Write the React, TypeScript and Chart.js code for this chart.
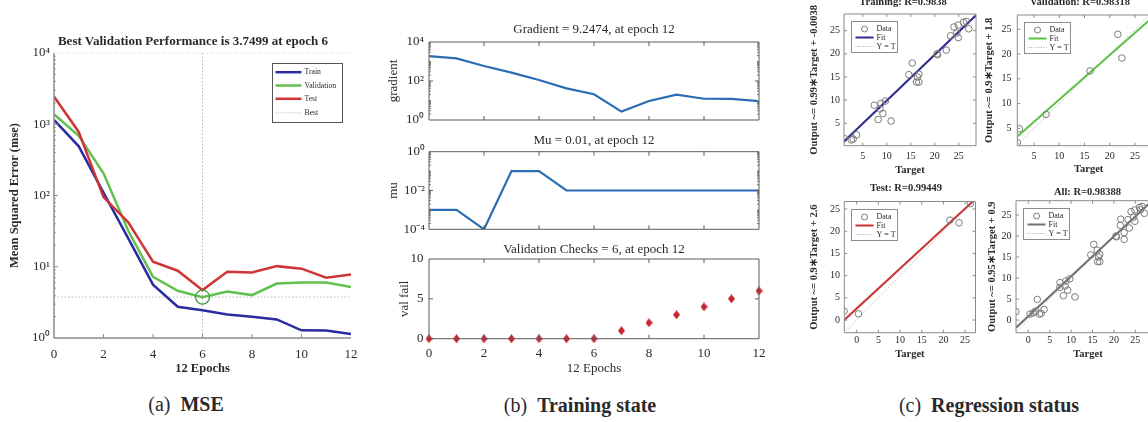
import React, { useEffect, useRef } from 'react';
import { Chart, registerables } from 'chart.js';

Chart.register(...registerables);

const FONT = '"Liberation Serif", "Times New Roman", Times, serif';
const INK = '#2a2a2a';
Chart.defaults.font.family = FONT;

// ---------------- (a) MSE ----------------
const epochs = [0, 1, 2, 3, 4, 5, 6, 7, 8, 9, 10, 11, 12];
const trainMse = [1150, 490, 110, 25, 5.6, 2.75, 2.45, 2.13, 1.98, 1.82, 1.28, 1.27, 1.14];
const validationMse = [1380, 690, 205, 32, 7.2, 4.6, 3.7499, 4.5, 4.0, 5.8, 6.0, 6.0, 5.2];
const testMse = [2450, 780, 95, 42, 11.8, 8.8, 4.7, 8.5, 8.3, 10.2, 9.4, 7.0, 7.8];
const bestEpoch = 6;
const bestPerformance = 3.7499;
const mseTicks = [1, 10, 100, 1000, 10000];
const mseTickLabels = ['10⁰', '10¹', '10²', '10³', '10⁴'];
const epochTicks = [0, 2, 4, 6, 8, 10, 12];
const epochTickLabels = ['0', '2', '4', '6', '8', '10', '12'];
const epochInnerTicks = [2, 4, 6, 8, 10];

// ---------------- (b) Training state ----------------
const gradientValues = [1900, 1450, 590, 270, 112, 42, 21, 2.7, 9.4, 20, 12.3, 12.2, 9.2474];
const muValues = [0.001, 0.001, 0.0001, 0.1, 0.1, 0.01, 0.01, 0.01, 0.01, 0.01, 0.01, 0.01, 0.01];
const valFailValues = [0, 0, 0, 0, 0, 0, 0, 1, 2, 3, 4, 5, 6];
const gradientTicks = [1, 100, 10000];
const gradientTickLabels = ['10⁰', '10²', '10⁴'];
const muTicks = [0.0001, 0.01, 1];
const muTickLabels = ['10⁻⁴', '10⁻²', '10⁰'];
const valFailTicks = [0, 5, 10];
const valFailTickLabels = ['0', '5', '10'];

// ---------------- (c) Regression ----------------
const trainTarget = [1.15, 2.6, 3.0, 3.7, 7.4, 8.8, 9.7, 8.2, 9.2, 10.9, 8.6, 14.6, 15.3, 16.2, 16.7, 16.7, 16.4, 20.5, 20.6, 22.4, 23.3, 24.0, 24.9, 24.9, 24.6, 26.0, 26.6, 27.1];
const trainOutput = [1.7, 1.4, 1.6, 2.5, 8.9, 9.3, 9.8, 5.8, 7.1, 5.5, 8.1, 15.5, 18.0, 13.9, 13.9, 15.6, 15.0, 20.0, 19.8, 20.8, 23.9, 25.8, 26.2, 23.5, 24.5, 26.8, 27.0, 25.4];
const validationTarget = [2.1, 1.7, 7.4, 16.1, 21.6, 22.4];
const validationOutput = [4.9, 2.1, 7.8, 16.6, 24.0, 19.2];
const testTarget = [-2.9, 0.4, 21.5, 23.6, 26.2];
const testOutput = [2.0, 1.4, 22.5, 21.9, 26.2];
const allTarget = [...trainTarget, ...validationTarget, ...testTarget];
const allOutput = [...trainOutput, ...validationOutput, ...testOutput];
const regTicksFrom5 = [5, 10, 15, 20, 25];
const regTicksFrom0 = [0, 5, 10, 15, 20, 25];
const fitTrain = { slope: 0.99, intercept: -0.0038, r: '0.9838' };
const fitValidation = { slope: 0.9, intercept: 1.8, r: '0.98318' };
const fitTest = { slope: 0.9, intercept: 2.6, r: '0.99449' };
const fitAll = { slope: 0.95, intercept: 0.9, r: '0.98388' };

// ---------------- styling ----------------
const BLUE = '#2c2ca2';
const GREEN = '#62c04e';
const RED = '#d03535';
const BEST = '#b5b5b5';
const MATLAB_BLUE = '#2a6db4';
const DIAMOND = '#c8232e';
const REG_FRAME = '#8a8a8a';
const B_FRAME = '#5a5a5a';

type Side = 'top' | 'right' | 'bottom' | 'left';
interface Geo { cx: number; cy: number; cw: number; ch: number; l: number; t: number; r: number; b: number; }
interface AxisSpec {
  type: 'linear' | 'logarithmic';
  min: number; max: number;
  ticks: number[]; labels: string[] | null;
  size: number; labelPos: number;
  title?: { text: string; size: number; bold: boolean; pos: number };
}
interface LegendItem { label: string; kind: 'line' | 'dotted' | 'circle'; color: string; width: number; }
interface Decor {
  frames: { sides: Side[]; color: string; width: number; dash?: number[] }[];
  ticks: { axis: 'x' | 'y'; values: number[]; sides: Side[]; len: number; color: string }[];
  legend?: { dx: number; dy: number; w: number; h: number; rows: number[]; s0: number; s1: number; tx: number; size: number; border: string; items: LegendItem[] };
}

const pts = (xs: number[], ys: number[]) => xs.map((x, i) => ({ x, y: ys[i] }));

function logMinor(minExp: number, maxExp: number) {
  const out: number[] = [];
  for (let e = minExp; e < maxExp; e++) for (let m = 2; m <= 9; m++) out.push(m * Math.pow(10, e));
  return out;
}

function diamondImage(w: number, h: number, color: string) {
  const c = document.createElement('canvas');
  c.width = w;
  c.height = h;
  const x = c.getContext('2d') as CanvasRenderingContext2D;
  x.fillStyle = color;
  x.beginPath();
  x.moveTo(w / 2, 0);
  x.lineTo(w, h / 2);
  x.lineTo(w / 2, h);
  x.lineTo(0, h / 2);
  x.closePath();
  x.fill();
  return c;
}

function axisOptions(g: Geo, ax: AxisSpec, horizontal: boolean) {
  const lh = ax.size * 1.2;
  const pad = horizontal ? ax.labelPos - g.b - lh / 2 : g.l - ax.labelPos;
  const tl = ax.title ? ax.title.size * 1.2 : 0;
  return {
    type: ax.type,
    position: horizontal ? 'bottom' : 'left',
    min: ax.min,
    max: ax.max,
    grid: { display: false, drawTicks: false },
    border: { display: false },
    ticks: {
      display: ax.labels !== null,
      autoSkip: false,
      maxRotation: 0,
      minRotation: 0,
      padding: pad,
      color: INK,
      font: { family: FONT, size: ax.size },
      callback: (_v: any, i: number) => (ax.labels ? ax.labels[i] : ''),
    },
    title: ax.title
      ? {
          display: true,
          text: ax.title.text,
          color: INK,
          font: { family: FONT, size: ax.title.size, weight: ax.title.bold ? 'bold' : 'normal' },
          padding: horizontal
            ? { top: 0, bottom: g.cy + g.ch - ax.title.pos - tl / 2 }
            : { top: ax.title.pos - g.cx - tl / 2, bottom: 0 },
        }
      : { display: false },
    afterBuildTicks: (s: any) => {
      s.ticks = ax.ticks.map((v) => ({ value: v }));
    },
    afterFit: (s: any) => {
      if (horizontal) s.height = g.cy + g.ch - g.b;
      else s.width = g.l - g.cx;
      s.paddingLeft = 0;
      s.paddingRight = 0;
      s.paddingTop = 0;
      s.paddingBottom = 0;
    },
  };
}

function baseOptions(g: Geo, x: AxisSpec, y: AxisSpec) {
  return {
    responsive: false,
    animation: false,
    events: [],
    layout: { padding: { left: 0, top: g.t - g.cy, right: g.cx + g.cw - g.r, bottom: 0 } },
    plugins: { legend: { display: false }, tooltip: { enabled: false }, title: { display: false } },
    scales: { x: axisOptions(g, x, true), y: axisOptions(g, y, false) },
  };
}

function decorPlugin(d: Decor) {
  return {
    id: 'decor',
    afterDatasetsDraw(chart: any) {
      const ctx: CanvasRenderingContext2D = chart.ctx;
      const a = chart.chartArea;
      const xs = chart.scales.x;
      const ys = chart.scales.y;
      ctx.save();
      for (const t of d.ticks) {
        ctx.strokeStyle = t.color;
        ctx.lineWidth = 1;
        ctx.setLineDash([]);
        ctx.beginPath();
        for (const v of t.values) {
          if (t.axis === 'x') {
            const px = xs.getPixelForValue(v);
            if (t.sides.includes('bottom')) { ctx.moveTo(px, a.bottom); ctx.lineTo(px, a.bottom - t.len); }
            if (t.sides.includes('top')) { ctx.moveTo(px, a.top); ctx.lineTo(px, a.top + t.len); }
          } else {
            const py = ys.getPixelForValue(v);
            if (t.sides.includes('left')) { ctx.moveTo(a.left, py); ctx.lineTo(a.left + t.len, py); }
            if (t.sides.includes('right')) { ctx.moveTo(a.right, py); ctx.lineTo(a.right - t.len, py); }
          }
        }
        ctx.stroke();
      }
      for (const f of d.frames) {
        ctx.strokeStyle = f.color;
        ctx.lineWidth = f.width;
        ctx.setLineDash(f.dash || []);
        ctx.beginPath();
        for (const s of f.sides) {
          if (s === 'top') { ctx.moveTo(a.left, a.top); ctx.lineTo(a.right, a.top); }
          if (s === 'bottom') { ctx.moveTo(a.left, a.bottom); ctx.lineTo(a.right, a.bottom); }
          if (s === 'left') { ctx.moveTo(a.left, a.top); ctx.lineTo(a.left, a.bottom); }
          if (s === 'right') { ctx.moveTo(a.right, a.top); ctx.lineTo(a.right, a.bottom); }
        }
        ctx.stroke();
      }
      const L = d.legend;
      if (L) {
        const x0 = Math.round(a.left + L.dx) + 0.5;
        const y0 = Math.round(a.top + L.dy) + 0.5;
        ctx.setLineDash([]);
        ctx.fillStyle = '#ffffff';
        ctx.fillRect(x0, y0, L.w, L.h);
        ctx.strokeStyle = L.border;
        ctx.lineWidth = 1;
        ctx.strokeRect(x0, y0, L.w, L.h);
        ctx.font = `${L.size}px ${FONT}`;
        ctx.textBaseline = 'middle';
        ctx.textAlign = 'left';
        L.items.forEach((it, i) => {
          const yy = y0 + L.rows[i];
          ctx.strokeStyle = it.color;
          ctx.lineWidth = it.width;
          ctx.beginPath();
          if (it.kind === 'circle') {
            ctx.setLineDash([]);
            ctx.arc(x0 + (L.s0 + L.s1) / 2, yy, 3, 0, Math.PI * 2);
          } else {
            ctx.setLineDash(it.kind === 'dotted' ? [1, 1.5] : []);
            ctx.moveTo(x0 + L.s0, yy);
            ctx.lineTo(x0 + L.s1, yy);
          }
          ctx.stroke();
          ctx.fillStyle = INK;
          ctx.fillText(it.label, x0 + L.tx, yy);
        });
      }
      ctx.restore();
    },
  };
}

const lineDs = (label: string, data: any[], color: string, width: number, order: number, dash: number[] = []) => ({
  label,
  data,
  showLine: true,
  borderColor: color,
  backgroundColor: color,
  borderWidth: width,
  borderDash: dash,
  pointRadius: 0,
  order,
});

// ---------------- panel (a) ----------------
const geoA: Geo = { cx: 0, cy: 30, cw: 380, ch: 355, l: 54, t: 53, r: 351, b: 338 };
const panelA = {
  key: 'mse',
  g: geoA,
  config: () => ({
    type: 'scatter',
    data: {
      datasets: [
        lineDs('Test', pts(epochs, testMse), RED, 2.5, 1),
        lineDs('Validation', pts(epochs, validationMse), GREEN, 2.5, 2),
        lineDs('Train', pts(epochs, trainMse), BLUE, 2.5, 3),
        lineDs('Best', [{ x: epochs[0], y: bestPerformance }, { x: epochs[epochs.length - 1], y: bestPerformance }], BEST, 1, 4, [1.5, 2]),
        lineDs('Best', [{ x: bestEpoch, y: mseTicks[0] }, { x: bestEpoch, y: mseTicks[mseTicks.length - 1] }], BEST, 1, 4, [1.5, 2]),
        {
          label: 'Best point',
          data: [{ x: bestEpoch, y: bestPerformance }],
          pointRadius: 7,
          pointStyle: 'circle',
          pointBorderColor: '#3f9a3f',
          pointBackgroundColor: 'rgba(0,0,0,0)',
          pointBorderWidth: 1.3,
          order: 0,
        },
      ],
    },
    options: baseOptions(
      geoA,
      { type: 'linear', min: 0, max: 12, ticks: epochTicks, labels: epochTickLabels, size: 13, labelPos: 355, title: { text: '12 Epochs', size: 12.5, bold: true, pos: 369 } },
      { type: 'logarithmic', min: 1, max: 10000, ticks: mseTicks, labels: mseTickLabels, size: 13, labelPos: 50, title: { text: 'Mean Squared Error (mse)', size: 12.5, bold: true, pos: 15 } },
    ),
    plugins: [
      decorPlugin({
        frames: [
          { sides: ['left', 'bottom'], color: '#8c8c8c', width: 1.5 },
          { sides: ['top'], color: '#d2d2d2', width: 1, dash: [1, 2] },
        ],
        ticks: [
          { axis: 'x', values: epochInnerTicks, sides: ['bottom'], len: 4, color: '#8c8c8c' },
          { axis: 'y', values: [10, 100, 1000], sides: ['left'], len: 4, color: '#8c8c8c' },
          { axis: 'y', values: logMinor(0, 4), sides: ['left'], len: 2, color: '#a0a0a0' },
        ],
        legend: {
          dx: 218, dy: 10, w: 70, h: 59, rows: [8.7, 22, 35.3, 49.3], s0: 3, s1: 29, tx: 32, size: 7.7, border: '#555555',
          items: [
            { label: 'Train', kind: 'line', color: BLUE, width: 2.5 },
            { label: 'Validation', kind: 'line', color: GREEN, width: 2.5 },
            { label: 'Test', kind: 'line', color: RED, width: 2.5 },
            { label: 'Best', kind: 'dotted', color: BEST, width: 1 },
          ],
        },
      }),
    ],
  }),
};

// ---------------- panel (b) ----------------
const geoB1: Geo = { cx: 380, cy: 30, cw: 400, ch: 95, l: 429, t: 42, r: 759, b: 120 };
const geoB2: Geo = { cx: 380, cy: 140, cw: 400, ch: 95, l: 429, t: 151.7, r: 759, b: 229.3 };
const geoB3: Geo = { cx: 380, cy: 250, cw: 400, ch: 130, l: 429, t: 259, r: 759, b: 338.7 };
const bFrame = { sides: ['top', 'right', 'bottom', 'left'] as Side[], color: B_FRAME, width: 1 };
const bXTicks = { axis: 'x' as const, values: epochInnerTicks, sides: ['top', 'bottom'] as Side[], len: 4, color: B_FRAME };

const panelB1 = {
  key: 'gradient',
  g: geoB1,
  config: () => ({
    type: 'scatter',
    data: { datasets: [lineDs('gradient', pts(epochs, gradientValues), MATLAB_BLUE, 2.2, 1)] },
    options: baseOptions(
      geoB1,
      { type: 'linear', min: 0, max: 12, ticks: epochTicks, labels: null, size: 13, labelPos: 130 },
      { type: 'logarithmic', min: 1, max: 10000, ticks: gradientTicks, labels: gradientTickLabels, size: 13, labelPos: 424, title: { text: 'gradient', size: 13, bold: false, pos: 394 } },
    ),
    plugins: [
      decorPlugin({
        frames: [bFrame],
        ticks: [
          bXTicks,
          { axis: 'y', values: [100], sides: ['left', 'right'], len: 4, color: B_FRAME },
          { axis: 'y', values: [10, 1000, ...logMinor(0, 4)], sides: ['left', 'right'], len: 2, color: '#7a7a7a' },
        ],
      }),
    ],
  }),
};

const panelB2 = {
  key: 'mu',
  g: geoB2,
  config: () => ({
    type: 'scatter',
    data: { datasets: [lineDs('mu', pts(epochs, muValues), MATLAB_BLUE, 2.2, 1)] },
    options: baseOptions(
      geoB2,
      { type: 'linear', min: 0, max: 12, ticks: epochTicks, labels: null, size: 13, labelPos: 240 },
      { type: 'logarithmic', min: 0.0001, max: 1, ticks: muTicks, labels: muTickLabels, size: 13, labelPos: 425, title: { text: 'mu', size: 13, bold: false, pos: 393.5 } },
    ),
    plugins: [
      decorPlugin({
        frames: [bFrame],
        ticks: [
          bXTicks,
          { axis: 'y', values: [0.01], sides: ['left', 'right'], len: 4, color: B_FRAME },
          { axis: 'y', values: [0.001, 0.1, ...logMinor(-4, 0)], sides: ['left', 'right'], len: 2, color: '#7a7a7a' },
        ],
      }),
    ],
  }),
};

const panelB3 = {
  key: 'valfail',
  g: geoB3,
  config: () => ({
    type: 'scatter',
    data: {
      datasets: [
        {
          label: 'val fail',
          data: pts(epochs, valFailValues),
          pointStyle: diamondImage(7, 9, DIAMOND),
          pointRadius: 4,
          pointBackgroundColor: DIAMOND,
          pointBorderColor: DIAMOND,
          clip: false,
        },
      ],
    },
    options: baseOptions(
      geoB3,
      { type: 'linear', min: 0, max: 12, ticks: epochTicks, labels: epochTickLabels, size: 13, labelPos: 353.3, title: { text: '12 Epochs', size: 13, bold: false, pos: 368.3 } },
      { type: 'linear', min: 0, max: 10, ticks: valFailTicks, labels: valFailTickLabels, size: 13, labelPos: 423.5, title: { text: 'val fail', size: 13, bold: false, pos: 405 } },
    ),
    plugins: [
      decorPlugin({
        frames: [bFrame],
        ticks: [bXTicks, { axis: 'y', values: [5], sides: ['left', 'right'], len: 4, color: B_FRAME }],
      }),
    ],
  }),
};

// ---------------- panel (c) ----------------
interface RegSpec {
  key: string; g: Geo;
  xMin: number; xMax: number; yMin: number; yMax: number;
  xTicks: number[]; yTicks: number[];
  xLabelPos: number; yLabelPos: number; xTitlePos: number; yTitlePos: number;
  target: number[]; output: number[];
  fit: { slope: number; intercept: number };
  color: string;
}

function regressionPanel(s: RegSpec) {
  const lo = Math.min(s.xMin, s.yMin);
  const hi = Math.max(s.xMax, s.yMax);
  const yTitle = `Output ~= ${s.fit.slope}∗Target + ${s.fit.intercept}`;
  return {
    key: s.key,
    g: s.g,
    config: () => ({
      type: 'scatter',
      data: {
        datasets: [
          {
            label: 'Data',
            data: pts(s.target, s.output),
            pointStyle: 'circle',
            pointRadius: 3.3,
            pointBorderWidth: 1,
            pointBorderColor: '#7c7c7c',
            pointBackgroundColor: 'rgba(0,0,0,0)',
            order: 0,
          },
          lineDs('Fit', [
            { x: s.xMin, y: s.fit.slope * s.xMin + s.fit.intercept },
            { x: s.xMax, y: s.fit.slope * s.xMax + s.fit.intercept },
          ], s.color, 2, 1),
          lineDs('Y = T', [{ x: lo, y: lo }, { x: hi, y: hi }], '#b0b0b0', 1, 2, [1, 1.5]),
        ],
      },
      options: baseOptions(
        s.g,
        { type: 'linear', min: s.xMin, max: s.xMax, ticks: s.xTicks, labels: s.xTicks.map(String), size: 10, labelPos: s.xLabelPos, title: { text: 'Target', size: 10.5, bold: true, pos: s.xTitlePos } },
        { type: 'linear', min: s.yMin, max: s.yMax, ticks: s.yTicks, labels: s.yTicks.map(String), size: 10, labelPos: s.yLabelPos, title: { text: yTitle, size: 10.5, bold: true, pos: s.yTitlePos } },
      ),
      plugins: [
        decorPlugin({
          frames: [{ sides: ['top', 'right', 'bottom', 'left'], color: REG_FRAME, width: 1 }],
          ticks: [
            { axis: 'x', values: s.xTicks, sides: ['top', 'bottom'], len: 3, color: REG_FRAME },
            { axis: 'y', values: s.yTicks, sides: ['left', 'right'], len: 3, color: REG_FRAME },
          ],
          legend: {
            dx: 7, dy: 7, w: 46, h: 31, rows: [7.5, 16, 25], s0: 4, s1: 22, tx: 25, size: 8, border: '#8c8c8c',
            items: [
              { label: 'Data', kind: 'circle', color: '#7c7c7c', width: 1 },
              { label: 'Fit', kind: 'line', color: s.color, width: 2 },
              { label: 'Y = T', kind: 'dotted', color: '#a8a8a8', width: 1 },
            ],
          },
        }),
      ],
    }),
  };
}

const panelC1 = regressionPanel({
  key: 'training', g: { cx: 790, cy: -10, cw: 200, ch: 190, l: 844, t: 14, r: 976, b: 145.7 },
  xMin: 1.09, xMax: 28.6, yMin: 0.16, yMax: 28.6, xTicks: regTicksFrom5, yTicks: regTicksFrom5,
  xLabelPos: 156.7, yLabelPos: 840, xTitlePos: 170, yTitlePos: 814,
  target: trainTarget, output: trainOutput, fit: fitTrain, color: '#2e2e90',
});
const panelC2 = regressionPanel({
  key: 'validation', g: { cx: 960, cy: -10, cw: 210, ch: 190, l: 1017.3, t: 15, r: 1160, b: 145.7 },
  xMin: 1.69, xMax: 29.95, yMin: 1.48, yMax: 27.9, xTicks: regTicksFrom5, yTicks: regTicksFrom5,
  xLabelPos: 156.7, yLabelPos: 1011.5, xTitlePos: 169.3, yTitlePos: 989,
  target: validationTarget, output: validationOutput, fit: fitValidation, color: '#5cc042',
});
const panelC3 = regressionPanel({
  key: 'test', g: { cx: 790, cy: 190, cw: 200, ch: 175, l: 844.3, t: 201.5, r: 975.5, b: 332.7 },
  xMin: -2.86, xMax: 27.4, yMin: -2.86, yMax: 26.7, xTicks: regTicksFrom0, yTicks: regTicksFrom0,
  xLabelPos: 340.5, yLabelPos: 840, xTitlePos: 354.3, yTitlePos: 814,
  target: testTarget, output: testOutput, fit: fitTest, color: '#cc3434',
});
const panelC4 = regressionPanel({
  key: 'all', g: { cx: 960, cy: 190, cw: 210, ch: 175, l: 1016, t: 200.7, r: 1160, b: 332.7 },
  xMin: -2.87, xMax: 30.77, yMin: -3.02, yMax: 28.4, xTicks: regTicksFrom0, yTicks: regTicksFrom0,
  xLabelPos: 340.7, yLabelPos: 1011.5, xTitlePos: 354.3, yTitlePos: 992.7,
  target: allTarget, output: allOutput, fit: fitAll, color: '#707070',
});

const PANELS = [panelA, panelB1, panelB2, panelB3, panelC1, panelC2, panelC3, panelC4];

const TITLES = [
  { x: 193, y: 40, size: 13, bold: true, text: `Best Validation Performance is ${bestPerformance} at epoch ${bestEpoch}` },
  { x: 594, y: 28, size: 13, bold: false, text: `Gradient = ${gradientValues[gradientValues.length - 1]}, at epoch ${epochs[epochs.length - 1]}` },
  { x: 594, y: 139.3, size: 13, bold: false, text: `Mu = ${muValues[muValues.length - 1]}, at epoch ${epochs[epochs.length - 1]}` },
  { x: 594, y: 248.3, size: 13, bold: false, text: `Validation Checks = ${valFailValues[valFailValues.length - 1]}, at epoch ${epochs[epochs.length - 1]}` },
  { x: 903, y: 2, size: 10.5, bold: true, text: `Training: R=${fitTrain.r}` },
  { x: 1080, y: 2, size: 10.5, bold: true, text: `Validation: R=${fitValidation.r}` },
  { x: 906, y: 188.3, size: 10.5, bold: true, text: `Test: R=${fitTest.r}` },
  { x: 1087.5, y: 191.7, size: 10.5, bold: true, text: `All: R=${fitAll.r}` },
];

const CAPTIONS = [
  { x: 186, y: 404, tag: '(a)', name: 'MSE' },
  { x: 580, y: 405, tag: '(b)', name: 'Training state' },
  { x: 989, y: 405, tag: '(c)', name: 'Regression status' },
];

const centered = (x: number, y: number, size: number, bold: boolean): React.CSSProperties => ({
  position: 'absolute',
  left: x,
  top: y,
  transform: 'translate(-50%, -50%)',
  fontFamily: FONT,
  fontSize: size,
  fontWeight: bold ? 700 : 400,
  lineHeight: 1,
  whiteSpace: 'nowrap',
  color: INK,
});

export default function App() {
  const refs = useRef<(HTMLCanvasElement | null)[]>([]);
  useEffect(() => {
    const charts = PANELS.map((p, i) => new Chart(refs.current[i] as HTMLCanvasElement, p.config() as any));
    return () => charts.forEach((c) => c.destroy());
  }, []);
  return (
    <div style={{ position: 'absolute', left: 0, top: 0, width: 1148, height: 422, overflow: 'hidden', background: '#ffffff' }}>
      {PANELS.map((p, i) => (
        <canvas
          key={p.key}
          ref={(el) => { refs.current[i] = el; }}
          width={p.g.cw}
          height={p.g.ch}
          style={{ position: 'absolute', left: p.g.cx, top: p.g.cy, width: p.g.cw, height: p.g.ch }}
        />
      ))}
      {TITLES.map((t) => (
        <div key={t.text} style={centered(t.x, t.y, t.size, t.bold)}>{t.text}</div>
      ))}
      {CAPTIONS.map((c) => (
        <div key={c.tag} style={centered(c.x, c.y, 20, false)}>
          {c.tag}&nbsp;&nbsp;<span style={{ fontWeight: 700 }}>{c.name}</span>
        </div>
      ))}
    </div>
  );
}
